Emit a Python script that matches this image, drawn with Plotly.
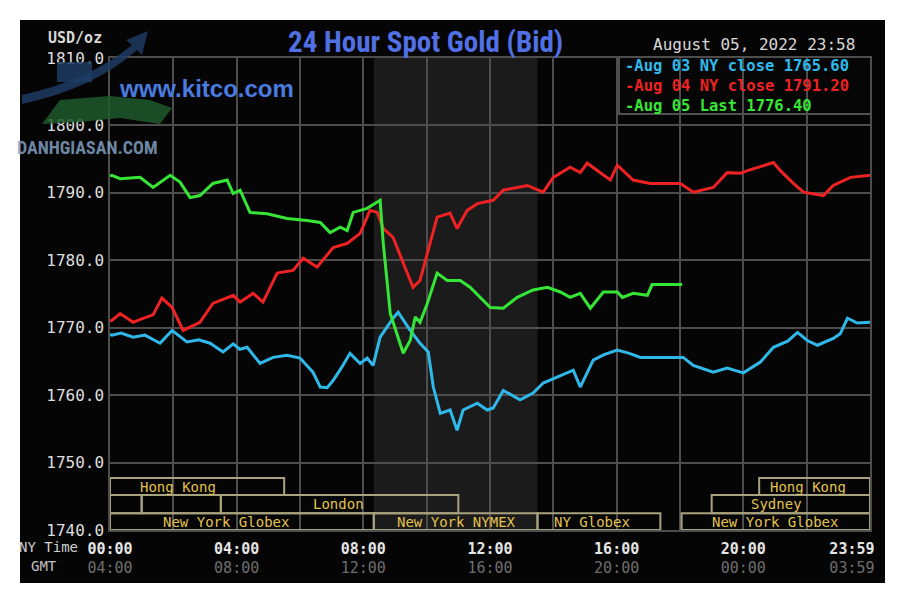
import plotly.graph_objects as go

# ---------------- data ----------------
aug03_hours = [0.0, 0.06, 0.35, 0.73, 1.1, 1.58, 1.96, 2.2, 2.43, 2.8, 3.16, 3.57, 3.89, 4.1, 4.33, 4.74, 5.15, 5.59,
               6.0, 6.41, 6.64, 6.86, 7.05, 7.3, 7.58, 7.9, 8.12, 8.31, 8.53, 8.94, 9.1, 9.48, 9.79, 10.05, 10.21,
               10.43, 10.74, 10.96, 11.15, 11.6, 11.91, 12.1, 12.42, 12.95, 13.36, 13.68, 14.12, 14.63, 14.85,
               15.26, 15.6, 16.02, 16.4, 16.75, 17.16, 18.1, 18.42, 19.05, 19.49, 20.0, 20.54, 20.95, 21.4, 21.71,
               22.02, 22.34, 22.84, 23.06, 23.29, 23.6, 24.0]
aug03_values = [1769.0, 1768.9, 1769.2, 1768.6, 1768.9, 1767.7, 1769.6, 1768.8, 1767.9, 1768.2, 1767.7, 1766.4, 1767.6,
                1766.8, 1767.1, 1764.7, 1765.6, 1765.9, 1765.5, 1763.4, 1761.2, 1761.1, 1762.2, 1764.0, 1766.2,
                1764.7, 1765.5, 1764.4, 1768.6, 1771.4, 1772.3, 1769.6, 1767.7, 1766.4, 1761.2, 1757.3, 1757.8,
                1754.8, 1757.8, 1758.8, 1757.8, 1758.1, 1760.7, 1759.3, 1760.3, 1761.8, 1762.7, 1763.7, 1761.2,
                1765.2, 1766.0, 1766.7, 1766.2, 1765.6, 1765.6, 1765.6, 1764.4, 1763.4, 1764.0, 1763.3, 1764.9,
                1767.1, 1768.0, 1769.3, 1768.1, 1767.4, 1768.4, 1769.1, 1771.4, 1770.7, 1770.8]

aug04_hours = [0.0, 0.06, 0.32, 0.73, 1.0, 1.36, 1.64, 1.96, 2.31, 2.84, 3.25, 3.89, 4.11, 4.52, 4.83, 5.28, 5.78, 6.1,
               6.54, 7.05, 7.49, 7.9, 8.21, 8.44, 8.63, 8.94, 9.26, 9.57, 9.79, 10.02, 10.33, 10.74, 10.96, 11.28,
               11.6, 12.1, 12.42, 13.18, 13.68, 14.0, 14.53, 14.85, 15.07, 15.8, 16.02, 16.52, 17.06, 18.01, 18.42,
               19.05, 19.49, 19.91, 20.13, 20.95, 21.17, 21.58, 21.9, 22.53, 22.84, 23.38, 24.0]
aug04_values = [1771.0, 1771.1, 1772.1, 1770.8, 1771.3, 1771.9, 1774.4, 1773.0, 1769.6, 1770.8, 1773.6, 1774.8, 1773.8,
                1775.1, 1773.8, 1778.1, 1778.5, 1780.3, 1779.0, 1781.9, 1782.5, 1784.0, 1787.4, 1787.1, 1784.7,
                1783.4, 1779.6, 1776.0, 1777.0, 1781.0, 1786.4, 1787.0, 1784.7, 1787.4, 1788.4, 1788.9, 1790.4,
                1791.1, 1790.1, 1792.3, 1793.8, 1793.0, 1794.4, 1791.9, 1794.1, 1791.9, 1791.4, 1791.4, 1790.1,
                1790.8, 1793.0, 1792.9, 1793.3, 1794.5, 1793.3, 1791.4, 1790.1, 1789.6, 1791.1, 1792.3, 1792.6]

aug05_hours = [0.0, 0.06, 0.32, 0.95, 1.36, 1.9, 2.21, 2.53, 2.84, 3.25, 3.7, 3.89, 4.11, 4.42, 4.96, 5.59, 6.22, 6.64,
               6.95, 7.27, 7.49, 7.68, 8.12, 8.53, 8.63, 8.85, 9.26, 9.48, 9.64, 9.79, 10.02, 10.33, 10.65, 11.06,
               11.37, 11.69, 12.01, 12.42, 12.86, 13.36, 13.81, 14.22, 14.53, 14.85, 15.17, 15.58, 16.02, 16.18,
               16.52, 16.97, 17.12, 18.07]
aug05_values = [1792.5, 1792.6, 1792.1, 1792.3, 1790.8, 1792.6, 1791.6, 1789.3, 1789.6, 1791.4, 1791.9, 1789.9, 1790.4,
                1787.1, 1786.9, 1786.2, 1785.9, 1785.6, 1784.1, 1784.9, 1784.4, 1787.1, 1787.7, 1788.9, 1782.5,
                1772.1, 1766.2, 1768.1, 1771.6, 1770.8, 1773.6, 1778.1, 1777.0, 1777.0, 1776.0, 1774.5, 1773.0,
                1772.9, 1774.5, 1775.6, 1776.0, 1775.3, 1774.5, 1775.1, 1772.9, 1775.3, 1775.3, 1774.5, 1775.1,
                1774.8, 1776.4, 1776.4]

legend_labels = ["-Aug 03 NY close 1765.60", "-Aug 04 NY close 1791.20", "-Aug 05 Last 1776.40"]
series_colors = ["#2fb9ea", "#ee2222", "#36e636"]

y_ticks = [1740, 1750, 1760, 1770, 1780, 1790, 1800, 1810]
x_grid = [0, 2, 4, 6, 8, 10, 12, 14, 16, 18, 20, 22, 24]
x_label_hours = [0, 4, 8, 12, 16, 20, 23.43]
ny_labels = ["00:00", "04:00", "08:00", "12:00", "16:00", "20:00", "23:59"]
gmt_labels = ["04:00", "08:00", "12:00", "16:00", "20:00", "00:00", "03:59"]

# market sessions: (row, start hour, end hour, label, label hour)
sessions = [
    (0, 0.0, 5.5, "Hong Kong", 2.15),
    (0, 20.5, 24.0, "Hong Kong", 22.05),
    (1, 0.0, 1.0, "", None),
    (1, 1.0, 3.5, "", None),
    (1, 3.5, 11.0, "London", 7.2),
    (1, 19.0, 24.0, "Sydney", 21.05),
    (2, 0.0, 8.33, "New York Globex", 3.67),
    (2, 8.33, 13.5, "New York NYMEX", 10.93),
    (2, 13.5, 17.38, "NY Globex", 15.23),
    (2, 18.05, 24.0, "New York Globex", 21.0),
]
row_bounds = [(1745.2, 1747.7), (1742.5, 1745.2), (1740.0, 1742.5)]
nymex_hours = (8.33, 13.5)

# ---------------- figure ----------------
W, H = 908, 605
L, R, T, B = 110, 38, 58, 75
PW, PH = W - L - R, H - T - B

def px(x):
    return (x - L) / PW

def py(y):
    return (H - B - y) / PH

MONO = "DejaVu Sans Mono, Liberation Mono, monospace"
GRID = "#4d4d4d"

fig = go.Figure()
for hrs, vals, col in zip([aug03_hours, aug04_hours, aug05_hours],
                          [aug03_values, aug04_values, aug05_values], series_colors):
    fig.add_trace(go.Scatter(x=hrs, y=vals, mode="lines", line=dict(color=col, width=3),
                             showlegend=False, hoverinfo="skip"))

shapes = []
# outer black frame
shapes.append(dict(type="rect", xref="paper", yref="paper", x0=px(20), x1=px(885), y0=py(583), y1=py(20),
                   fillcolor="#050505", line=dict(width=0), layer="below"))
# NYMEX shaded hours
shapes.append(dict(type="rect", xref="x", yref="paper", x0=nymex_hours[0], x1=nymex_hours[1], y0=0, y1=1,
                   fillcolor="#1b1b1b", line=dict(width=0), layer="below"))
annotations = []
for row, s, e, lab, lx in sessions:
    y0, y1 = row_bounds[row]
    shapes.append(dict(type="rect", xref="x", yref="y", x0=s, x1=e, y0=y0, y1=y1,
                       line=dict(color="#a9a27e", width=2), fillcolor="rgba(0,0,0,0)", layer="above"))
    if lab:
        annotations.append(dict(x=lx, y=(y0 + y1) / 2, xref="x", yref="y", text=lab, showarrow=False,
                                font=dict(family=MONO, size=14, color="#e3c24e")))

# watermark logo (rough)
shapes.append(dict(type="path", xref="paper", yref="paper",
                   path=f"M {px(22)} {py(95)} Q {px(90)} {py(80)} {px(132)} {py(45)} L {px(126)} {py(40)} "
                        f"L {px(148)} {py(31)} L {px(142)} {py(55)} L {px(137)} {py(50)} "
                        f"Q {px(95)} {py(88)} {px(22)} {py(104)} Z",
                   fillcolor="rgba(30,60,100,0.85)", line=dict(width=0)))
shapes.append(dict(type="rect", xref="paper", yref="paper", x0=px(57), x1=px(92), y0=py(82), y1=py(62),
                   fillcolor="rgba(30,60,100,0.85)", line=dict(width=0)))
shapes.append(dict(type="path", xref="paper", yref="paper",
                   path=f"M {px(42)} {py(124)} L {px(60)} {py(100)} L {px(110)} {py(96)} L {px(150)} {py(100)} "
                        f"L {px(172)} {py(108)} L {px(160)} {py(124)} L {px(120)} {py(118)} L {px(80)} {py(122)} Z",
                   fillcolor="rgba(30,90,45,0.85)", line=dict(width=0)))

def note(x, y, text, size, color, family=MONO, anchor="center"):
    return dict(x=px(x), y=py(y), xref="paper", yref="paper", text=text, showarrow=False,
                xanchor=anchor, yanchor="middle", font=dict(family=family, size=size, color=color))

annotations += [
    note(425, 42, "<b>24 Hour Spot Gold (Bid)</b>", 29, "#5070e4",
         "Liberation Sans Narrow, Roboto Condensed, Liberation Sans, Arial"),
    note(206, 88, "<b>www.kitco.com</b>", 24, "#4a7be0", "Liberation Sans, Arial"),
    note(87, 147, "<b>DANHGIASAN.COM</b>", 18, "rgba(130,160,195,0.85)",
         "Liberation Sans Narrow, Roboto Condensed, Liberation Sans"),
    note(104, 38, "<b>USD/oz</b>", 15, "#d8d8d8", anchor="right"),
    note(857, 45, "August 05, 2022 23:58", 16, "#d8d8d8", anchor="right"),
    note(80, 547, "NY Time", 14, "#d0d0d0", anchor="right"),
    note(59, 566, "GMT", 14, "#c0c0c0", anchor="right"),
]
legend_text = "<br>".join(f"<span style='color:{c}'><b>{t}</b></span>" for t, c in zip(legend_labels, series_colors))
leg = note(624, 86, legend_text, 15.5, series_colors[0], anchor="left")
leg["align"] = "left"
leg["borderpad"] = 0
annotations.append(leg)
shapes.append(dict(type="rect", xref="paper", yref="paper", x0=px(619), x1=px(871), y0=py(114), y1=py(57),
                   line=dict(color="#6a6a6a", width=1.5), fillcolor="#060606", layer="below"))

tick_text = [f"<b>{a}</b><br><span style='color:#6e6e6e'>{b}</span>" for a, b in zip(ny_labels, gmt_labels)]

fig.update_layout(
    width=W, height=H,
    margin=dict(l=L, r=R, t=T, b=B, pad=0),
    paper_bgcolor="#ffffff", plot_bgcolor="rgba(8,8,8,1)",
    shapes=shapes, annotations=annotations,
    xaxis=dict(range=[0, 24], tickmode="array", tickvals=x_label_hours, ticktext=tick_text,
               showgrid=False, zeroline=False,
               minor=dict(tickmode="array", tickvals=x_grid, showgrid=True, gridcolor=GRID, gridwidth=1.5,
                          ticks=""),
               showline=True, linecolor=GRID, linewidth=1.5, mirror=True, ticks="",
               tickfont=dict(family=MONO, size=15, color="#e6e6e6"), ticklabelstandoff=4),
    yaxis=dict(range=[1740, 1810], tickmode="array", tickvals=y_ticks, tickformat=".1f",
               showgrid=True, gridcolor=GRID, gridwidth=1.5, zeroline=False,
               showline=True, linecolor=GRID, linewidth=1.5, mirror=True, ticks="",
               tickfont=dict(family=MONO, size=16, color="#dedede"), ticklabelstandoff=1,
               tickprefix="<b>", ticksuffix="</b>"),
)
fig.write_html("out.html")
